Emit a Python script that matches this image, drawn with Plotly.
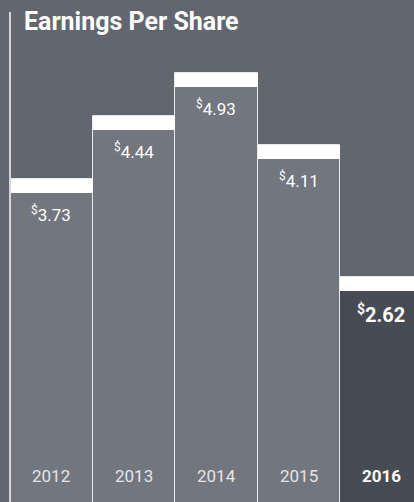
import plotly.graph_objects as go

years = ["2012", "2013", "2014", "2015", "2016"]
eps = [3.73, 4.44, 4.93, 4.11, 2.62]
bar_colors = ["#72767f", "#72767f", "#72767f", "#72767f", "#474b54"]
label_text = ["<sup>$</sup>3.73", "<sup>$</sup>4.44", "<sup>$</sup>4.93", "<sup>$</sup>4.11", "<b><sup>$</sup>2.62</b>"]
year_text = ["2012", "2013", "2014", "2015", "<b>2016</b>"]

BG = "#62666e"
CAP = 0.16

fig = go.Figure()
fig.add_trace(go.Bar(
    x=years, y=eps,
    marker=dict(color=bar_colors, line=dict(color="#e8e9eb", width=1)),
    hoverinfo="skip",
))
fig.add_trace(go.Bar(
    x=years, y=[CAP] * len(eps), base=[v - CAP for v in eps],
    marker=dict(color="#ffffff", line=dict(width=0)),
    hoverinfo="skip",
))

for i, (yr, v) in enumerate(zip(years, eps)):
    last = i == len(years) - 1
    fig.add_annotation(
        x=i, y=v - CAP, xref="x", yref="y",
        text=label_text[i], showarrow=False,
        yanchor="top", yshift=-8,
        font=dict(family="Roboto", size=20 if last else 17, color="#ffffff"),
    )
    fig.add_annotation(
        x=i, y=0, xref="x", yref="paper",
        text=year_text[i], showarrow=False,
        yanchor="bottom", yshift=14,
        font=dict(family="Roboto", size=17, color="#ffffff" if last else "#e4e5e8"),
    )

fig.add_shape(type="line", xref="paper", yref="paper",
              x0=0, x1=0, y0=0, y1=1 - 12 / 502,
              line=dict(color="#d4d6da", width=2), layer="above")

fig.update_layout(
    width=414, height=502,
    margin=dict(l=10, r=0, t=0, b=0),
    paper_bgcolor=BG, plot_bgcolor=BG,
    barmode="overlay", bargap=0,
    showlegend=False,
    title=dict(text="<b>Earnings Per Share</b>", x=24 / 414, xanchor="left",
               xref="container", yref="container", y=1 - 12 / 502, yanchor="top",
               font=dict(family="Roboto", size=25, color="#ffffff")),
    xaxis=dict(type="category", range=[-0.5, 4.397], showticklabels=False, showgrid=False,
               zeroline=False, showline=False, fixedrange=True),
    yaxis=dict(range=[0.07, 5.755], showticklabels=False, showgrid=False,
               zeroline=False, showline=False, fixedrange=True),
)

fig.write_html("out.html")
